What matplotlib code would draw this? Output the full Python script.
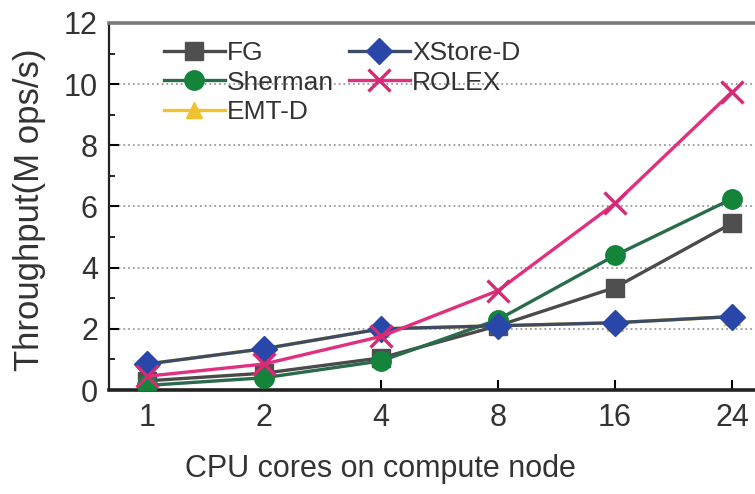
import matplotlib.pyplot as plt
from matplotlib.ticker import MultipleLocator

plt.rcParams['font.family'] = ['Liberation Sans', 'DejaVu Sans']

# throughput (M ops/s) vs. number of CPU cores on the compute node
cores = ['1', '2', '4', '8', '16', '24']
fg = [0.30, 0.55, 1.05, 2.10, 3.35, 5.45]
sherman = [0.15, 0.40, 0.95, 2.30, 4.40, 6.25]
emt_d = [0.85, 1.35, 2.00, 2.10, 2.20, 2.40]
xstore_d = [0.85, 1.35, 2.00, 2.10, 2.20, 2.40]
rolex = [0.45, 0.85, 1.75, 3.25, 6.10, 9.75]

x = list(range(len(cores)))

fig = plt.figure(figsize=(7.55, 4.94), dpi=100)
ax = fig.add_axes([0.1444, 0.2105, 0.8755, 0.743])

lw = 2.4
ax.plot(x, emt_d, color='#f2c12e', lw=lw, marker='^', ms=12, label='EMT-D', zorder=2)
ax.plot(x, fg, color='#4a4a4a', lw=lw, marker='s', ms=13,
        mfc='#4f4f4f', mec='#4f4f4f', label='FG', zorder=3)
ax.plot(x, sherman, color='#2a6b4c', lw=lw, marker='o', ms=14,
        mfc='#13843a', mec='#13843a', label='Sherman', zorder=4)
ax.plot(x, xstore_d, color='#3d4b63', lw=lw, marker='D', ms=13,
        mfc='#2847a8', mec='#2847a8', label='XStore-D', zorder=5)
ax.plot(x, rolex, color='#e0307f', lw=lw, marker='x', ms=16, mew=2.4,
        mec='#d52b74', label='ROLEX', zorder=6)

ax.set_xlim(-0.325, 5.325)
ax.set_ylim(0, 12)
ax.set_xticks(x)
ax.set_xticklabels(cores)
ax.yaxis.set_major_locator(MultipleLocator(2))
ax.yaxis.set_minor_locator(MultipleLocator(1))
ax.tick_params(axis='both', which='major', direction='in', length=7, width=1.5,
               labelsize=22, labelcolor='#333333', pad=8)
ax.tick_params(axis='y', which='minor', direction='in', length=4, width=1.2)
ax.tick_params(axis='x', pad=9)

ax.grid(axis='y', which='major', linestyle=':', color='#9a9a9a', lw=1.3)

for side in ['left', 'bottom']:
    ax.spines[side].set_color('#222222')
ax.spines['left'].set_linewidth(1.6)
ax.spines['bottom'].set_linewidth(2.6)
ax.spines['top'].set_color('#7a7a7a')
ax.spines['top'].set_linewidth(2.6)
ax.spines['right'].set_visible(False)

ax.set_xlabel('CPU cores on compute node', fontsize=22, color='#333333')
ax.set_ylabel('Throughput(M ops/s)', fontsize=25, color='#333333')
ax.xaxis.set_label_coords(0.41, -0.175)
ax.yaxis.set_label_coords(-0.095, 0.49)

handles, labels = ax.get_legend_handles_labels()
order = ['FG', 'Sherman', 'EMT-D', 'XStore-D', 'ROLEX']
hmap = dict(zip(labels, handles))
leg = ax.legend([hmap[k] for k in order], order, ncol=2, loc='upper left',
                bbox_to_anchor=(0.055, 1.0), frameon=False, fontsize=19,
                handlelength=2.3, handletextpad=0.1, columnspacing=0.55,
                labelspacing=0.2, borderaxespad=0.3)
for t in leg.get_texts():
    t.set_color('#333333')

fig.savefig('out.png', dpi=100)
